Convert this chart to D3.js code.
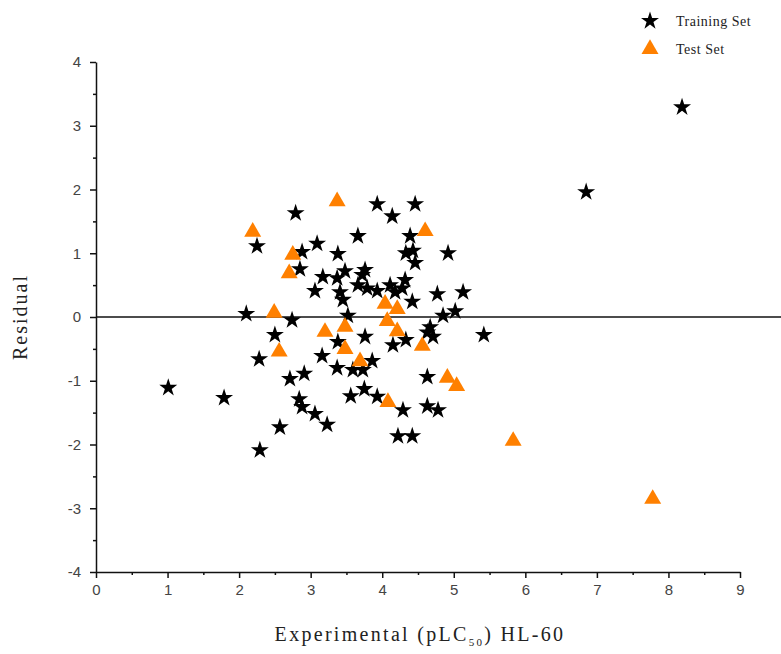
<!DOCTYPE html>
<html>
<head>
<meta charset="utf-8">
<script src="https://cdn.jsdelivr.net/npm/d3@7"></script>
<style>
  body { margin: 0; background: #fff; }
  .tick text { font-family: "Liberation Sans", Arial, sans-serif; fill: #444; }
</style>
</head>
<body>
<svg id="canvas"></svg>
<script>
// training set (black stars)
const trainX = [1.01, 1.79, 2.29, 2.79, 2.25, 3.09, 2.88, 2.85, 3.17, 3.06, 2.10, 2.74,
  3.93, 4.46, 4.14, 3.66, 4.39, 4.92, 4.33, 4.43, 4.46, 3.38,
  3.37, 3.48, 3.72, 3.76, 3.66, 3.79, 3.93, 4.11, 4.32, 4.28, 3.45, 3.41, 4.18, 4.42,
  4.77, 5.13, 5.02, 4.85, 3.52,
  2.50, 2.28, 3.16, 2.91, 2.71, 2.84, 2.88, 3.06, 3.23, 2.57,
  3.38, 3.76, 4.15, 4.33, 4.63, 4.67, 4.71, 3.86, 3.59, 3.73, 3.37,
  4.63, 4.63, 4.78, 4.22, 4.42, 4.29, 3.93, 3.75, 3.56,
  5.42, 6.85, 8.19];
const trainY = [-1.11, -1.27, -2.09, 1.63, 1.11, 1.15, 1.02, 0.75, 0.63, 0.41, 0.05, -0.05,
  1.77, 1.77, 1.58, 1.27, 1.27, 1.00, 1.00, 1.04, 0.85, 0.99,
  0.61, 0.72, 0.66, 0.74, 0.50, 0.45, 0.41, 0.50, 0.58, 0.45, 0.27, 0.39, 0.39, 0.24,
  0.36, 0.39, 0.09, 0.02, 0.02,
  -0.28, -0.66, -0.61, -0.89, -0.97, -1.29, -1.41, -1.52, -1.69, -1.73,
  -0.39, -0.31, -0.44, -0.36, -0.24, -0.16, -0.31, -0.69, -0.83, -0.83, -0.80,
  -0.94, -1.40, -1.46, -1.87, -1.87, -1.46, -1.25, -1.13, -1.24,
  -0.28, 1.96, 3.29];

// test set (orange triangles)
const testX = [3.37, 2.19, 2.75, 2.70, 2.49, 4.60, 4.04, 4.21,
  3.48, 4.07, 4.21, 4.56, 3.48, 3.69, 3.20, 2.56,
  4.91, 5.04, 4.08, 5.83, 7.78];
const testY = [1.80, 1.32, 0.96, 0.67, 0.05, 1.33, 0.19, 0.11,
  -0.17, -0.08, -0.24, -0.47, -0.52, -0.71, -0.25, -0.56,
  -0.97, -1.10, -1.35, -1.96, -2.87];

const xTicks = [0, 1, 2, 3, 4, 5, 6, 7, 8, 9];
const yTicks = [-4, -3, -2, -1, 0, 1, 2, 3, 4];
const legendLabels = ["Training Set", "Test Set"];

const width = 781;
const height = 654;
const margin = {top: 62, right: 41, bottom: 82, left: 96};
const innerWidth = width - margin.left - margin.right;
const innerHeight = height - margin.top - margin.bottom;
const serif = "'Liberation Serif', 'DejaVu Serif', serif";

const svg = d3.select("#canvas").attr("width", width).attr("height", height);
const g = svg.append("g").attr("transform", `translate(${margin.left}, ${margin.top})`);

const xScale = d3.scaleLinear().domain([0, 9]).range([0, innerWidth]);
const yScale = d3.scaleLinear().domain([-4, 4]).range([innerHeight, 0]);

const halfX = d3.range(0.5, 9, 1);
const halfY = d3.range(-3.5, 4, 1);
const fmt = d => String(d); // plain hyphen minus, like the original

// x axis
const xGroup = g.append("g").attr("transform", `translate(0, ${innerHeight})`);
xGroup.call(d3.axisBottom(xScale).tickValues(xTicks).tickFormat(fmt).tickSize(6).tickSizeOuter(0).tickPadding(6))
  .call(a => a.selectAll("text").style("font-size", "15px"));
xGroup.append("g")
  .call(d3.axisBottom(xScale).tickValues(halfX).tickSize(3).tickFormat(""))
  .call(a => a.select(".domain").remove());
xGroup.selectAll("line, path").attr("stroke", "#111").attr("stroke-width", 1.5);

// y axis
const yGroup = g.append("g");
yGroup.call(d3.axisLeft(yScale).tickValues(yTicks).tickFormat(fmt).tickSize(6).tickSizeOuter(0).tickPadding(9))
  .call(a => a.selectAll("text").style("font-size", "15px"));
yGroup.append("g")
  .call(d3.axisLeft(yScale).tickValues(halfY).tickSize(3).tickFormat(""))
  .call(a => a.select(".domain").remove());
yGroup.selectAll("line, path").attr("stroke", "#111").attr("stroke-width", 1.5);

// zero line
g.append("line")
  .attr("x1", 0).attr("x2", width - margin.left)
  .attr("y1", yScale(0)).attr("y2", yScale(0))
  .attr("stroke", "#111").attr("stroke-width", 1.5);

// axis titles
const xTitle = svg.append("text")
  .attr("x", margin.left + innerWidth / 2 + 2)
  .attr("y", 641)
  .attr("text-anchor", "middle")
  .style("font-family", serif)
  .style("font-size", "20px")
  .style("letter-spacing", "2.3px")
  .attr("fill", "#222");
xTitle.append("tspan").text("Experimental (pLC");
xTitle.append("tspan").attr("font-size", "11px").attr("dy", 5).text("50");
xTitle.append("tspan").attr("dy", -5).text(") HL-60");

svg.append("text")
  .attr("transform", `translate(27, ${yScale(0) + margin.top}) rotate(-90)`)
  .attr("text-anchor", "middle")
  .style("font-family", serif)
  .style("font-size", "20px")
  .style("letter-spacing", "2px")
  .attr("fill", "#222")
  .text("Residual");

// points
const star = d3.symbol().type(d3.symbolStar).size(100);
const tri = d3.symbol().type(d3.symbolTriangle).size(125);

g.selectAll("path.train")
  .data(trainX.map((x, i) => [x, trainY[i]]))
  .join("path")
  .attr("class", "train")
  .attr("d", star)
  .attr("transform", d => `translate(${xScale(d[0])}, ${yScale(d[1])})`)
  .attr("fill", "#000");

g.selectAll("path.test")
  .data(testX.map((x, i) => [x, testY[i]]))
  .join("path")
  .attr("class", "test")
  .attr("d", tri)
  .attr("transform", d => `translate(${xScale(d[0])}, ${yScale(d[1]) - 1})`)
  .attr("fill", "#ff8000");

// legend
const legend = svg.append("g").attr("transform", "translate(650, 21)");
legend.append("path").attr("d", star).attr("fill", "#000");
legend.append("path").attr("d", tri).attr("transform", "translate(0, 28)").attr("fill", "#ff8000");
legend.selectAll("text")
  .data(legendLabels)
  .join("text")
  .attr("x", 26)
  .attr("y", (d, i) => i * 28 + 5)
  .style("font-family", serif)
  .style("font-size", "14px")
  .style("letter-spacing", "0.5px")
  .attr("fill", "#222")
  .text(d => d);
</script>
</body>
</html>
